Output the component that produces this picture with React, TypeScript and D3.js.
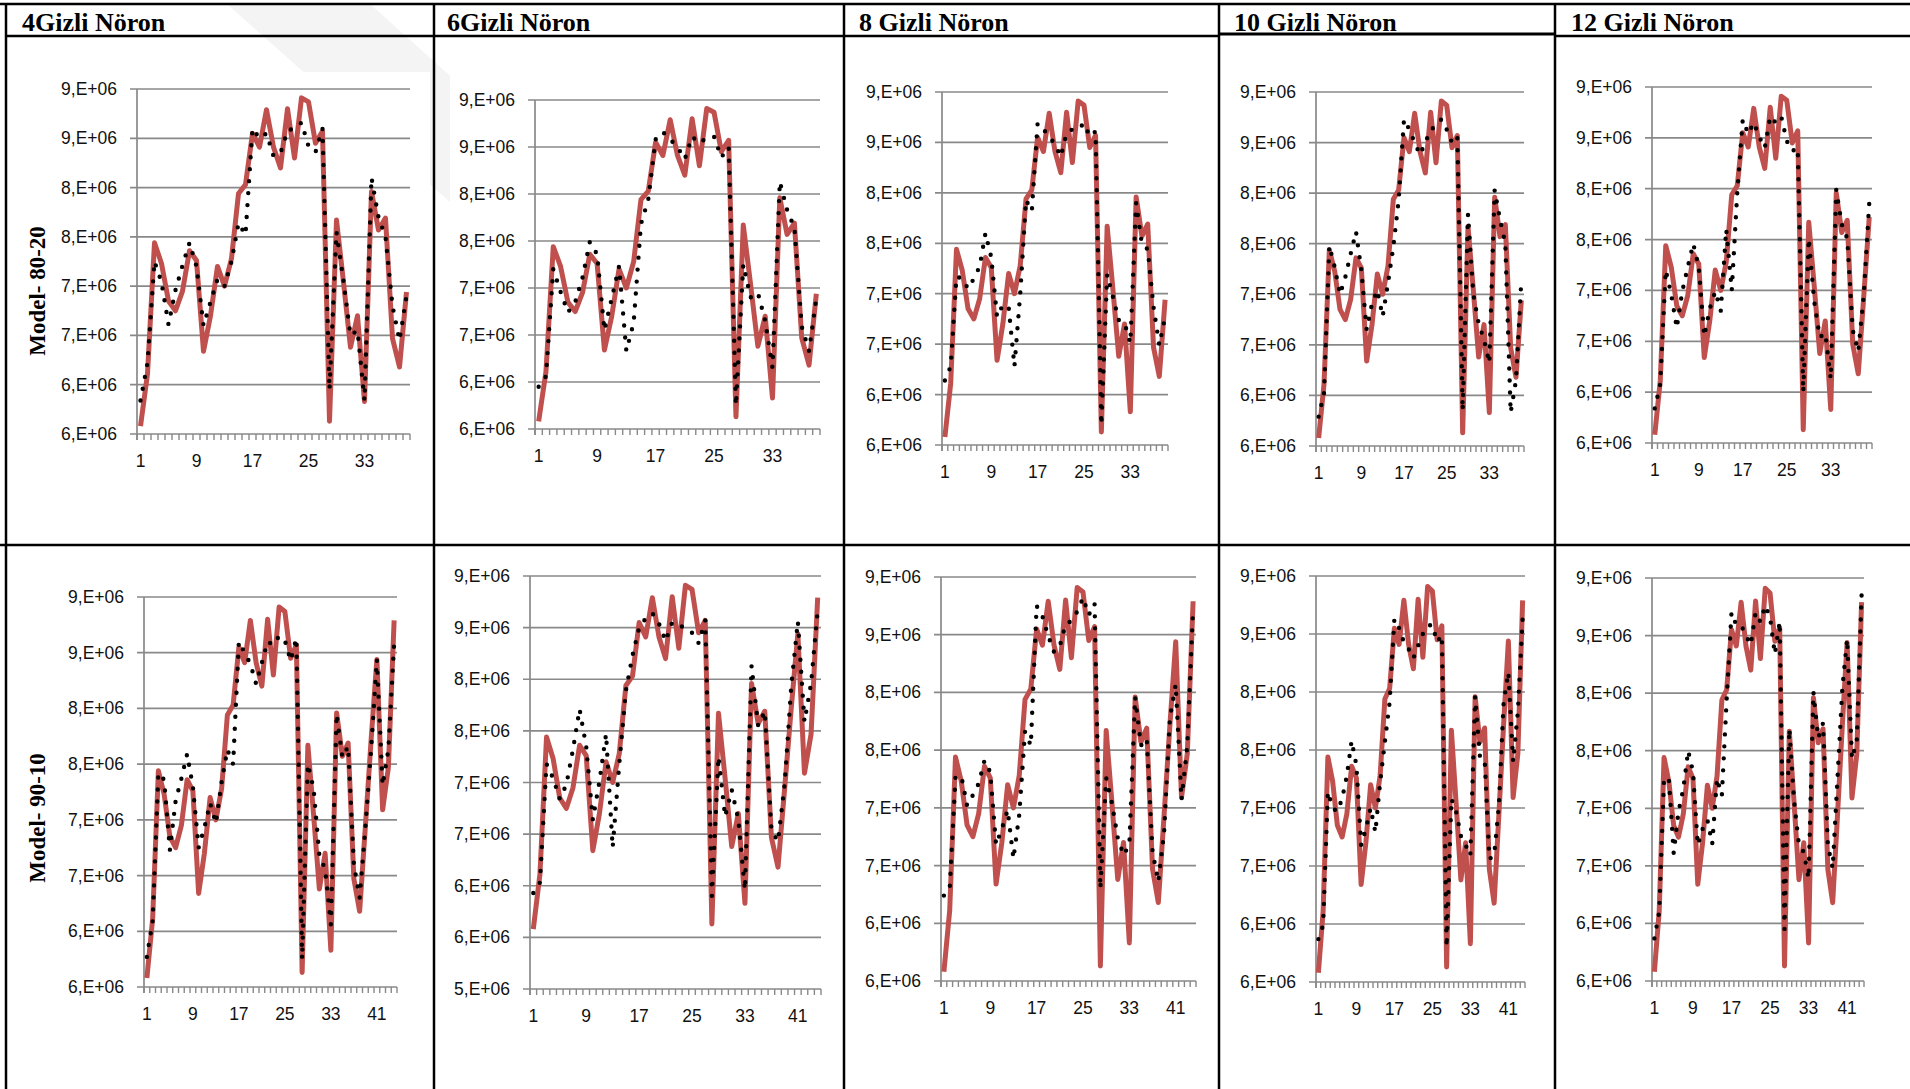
import React from "react";
import * as d3 from "d3";

const W = 1910;
const H = 1089;

// column / row titles
const neurons = ["4Gizli Nöron", "6Gizli Nöron", "8 Gizli Nöron", "10 Gizli Nöron", "12 Gizli Nöron"];
const models = ["Model- 80-20", "Model- 90-10"];

// actual values (x 1e6), red line
const actual = [
  5.58, 6.11, 7.44, 7.23, 6.85, 6.75, 6.95, 7.36, 7.26, 6.34, 6.7, 7.2, 7.0, 7.28, 7.94, 8.03,
  8.55, 8.41, 8.79, 8.41, 8.2, 8.8, 8.3, 8.91, 8.87, 8.45, 8.57, 5.63, 7.67, 7.04, 6.38, 6.7,
  5.83, 7.96, 7.57, 7.69, 6.47, 6.18, 6.94, 7.72, 8.44, 7.09, 7.47, 8.79,
];

// predicted values (x 1e6), black dotted line, model 80-20
const pred80n4 = [
  5.84, 6.22, 7.25, 7.04, 6.61, 6.96, 7.21, 7.44, 7.2, 6.6, 6.84, 7.07, 7.0, 7.25, 7.64, 7.52,
  8.6, 8.5, 8.55, 8.32, 8.35, 8.58, 8.6, 8.66, 8.42, 8.36, 8.6, 5.95, 7.55, 7.05, 6.5, 6.55,
  5.84, 8.1, 7.7, 7.5, 6.8, 6.45, 6.9,
];
const pred80n6 = [
  5.95, 6.06, 7.2, 6.96, 6.74, 6.85, 7.11, 7.49, 7.36, 6.55, 6.89, 7.23, 6.33, 6.63, 7.68, 7.94,
  8.58, 8.66, 8.58, 8.5, 8.37, 8.61, 8.54, 8.6, 8.61, 8.39, 8.5, 5.75, 7.25, 6.9, 6.95, 6.65,
  6.15, 8.13, 7.83, 7.64, 6.59, 6.33, 6.89,
];
const pred80n8 = [
  6.14, 6.28, 7.17, 7.15, 7.05, 7.15, 7.27, 7.6, 7.36, 6.77, 6.89, 6.87, 6.28, 7.0, 7.93, 7.82,
  8.69, 8.63, 8.56, 8.48, 8.36, 8.59, 8.63, 8.63, 8.69, 8.56, 8.61, 5.7, 7.19, 6.97, 6.74, 6.71,
  6.51, 7.9, 7.49, 7.44, 6.87, 6.49, 6.77,
];
const pred80n10 = [
  5.79, 6.02, 7.48, 7.27, 7.0, 7.17, 7.4, 7.62, 7.24, 6.65, 6.91, 7.04, 6.78, 7.11, 7.47, 7.93,
  8.73, 8.63, 8.5, 8.38, 8.5, 8.63, 8.66, 8.73, 8.63, 8.5, 8.56, 5.85, 7.79, 7.0, 6.71, 6.55,
  6.32, 8.03, 7.74, 7.5, 5.83, 6.15, 7.14,
];
const pred80n12 = [
  5.84, 6.08, 7.2, 6.96, 6.63, 6.99, 7.23, 7.46, 7.23, 6.55, 6.82, 6.99, 6.8, 7.6, 7.0, 7.96,
  8.68, 8.54, 8.65, 8.51, 8.4, 8.71, 8.65, 8.71, 8.47, 8.37, 8.4, 6.0, 7.51, 6.89, 6.54, 6.58,
  6.13, 7.99, 7.65, 7.51, 6.61, 6.4, 6.95, 7.86,
];

// predicted values, model 90-10
const pred90n4 = [
  5.77, 6.09, 7.42, 7.36, 6.73, 7.17, 7.37, 7.59, 7.3, 6.75, 6.93, 7.15, 6.97, 7.34, 7.63, 7.5,
  8.6, 8.5, 8.4, 8.22, 8.41, 8.6, 8.57, 8.65, 8.61, 8.43, 8.63, 5.75, 7.5, 7.28, 6.68, 6.56,
  6.06, 7.95, 7.56, 7.66, 6.6, 6.3, 6.93, 7.63, 8.44, 7.31, 7.63, 8.58,
];
const pred90n6 = [
  5.93, 6.03, 7.18, 7.04, 6.84, 6.98, 7.32, 7.71, 7.35, 6.64, 7.01, 7.47, 6.37, 7.18, 7.89, 8.23,
  8.5, 8.59, 8.64, 8.54, 8.37, 8.55, 8.52, 8.5, 8.45, 8.35, 8.57, 5.9, 7.25, 6.67, 6.93, 6.64,
  5.96, 8.13, 7.55, 7.69, 6.54, 6.43, 6.98, 7.93, 8.56, 7.59, 7.96, 8.67,
];
const pred90n8 = [
  6.24, 6.3, 7.26, 7.28, 7.02, 7.11, 7.21, 7.41, 7.31, 6.68, 6.82, 6.98, 6.56, 6.94, 7.66, 7.54,
  8.75, 8.66, 8.49, 8.35, 8.4, 8.59, 8.62, 8.7, 8.82, 8.67, 8.77, 6.3, 7.26, 7.04, 6.74, 6.59,
  6.68, 7.96, 7.54, 7.6, 6.62, 6.36, 6.79, 7.78, 8.07, 7.07, 7.54, 8.73,
];
const pred90n10 = [
  5.87, 5.99, 7.14, 7.0, 6.97, 7.08, 7.28, 7.58, 7.37, 6.68, 6.82, 7.0, 6.79, 7.22, 7.57, 7.91,
  8.63, 8.55, 8.43, 8.37, 8.29, 8.4, 8.5, 8.57, 8.58, 8.43, 8.49, 5.8, 7.08, 6.97, 6.76, 6.68,
  6.59, 7.96, 7.45, 7.43, 6.56, 6.59, 7.02, 7.91, 8.17, 7.4, 7.83, 8.63,
];
const pred90n12 = [
  5.87, 6.1, 7.26, 7.26, 6.61, 6.97, 7.17, 7.5, 7.32, 6.68, 6.82, 6.9, 6.69, 7.26, 7.11, 7.95,
  8.7, 8.59, 8.59, 8.5, 8.42, 8.7, 8.62, 8.76, 8.66, 8.34, 8.62, 5.95, 7.69, 7.06, 6.68, 6.62,
  6.39, 8.01, 7.61, 7.74, 6.68, 6.48, 7.26, 8.04, 8.47, 7.43, 7.58, 8.85,
];

const yMax = 9.0;
const yStep = 0.5;
const xLabelEvery = 8;

// where each small chart sits in the page
const panels = [
  { pred: pred80n4, yMin: 5.5, left: 137, right: 410, top: 89, bottom: 434 },
  { pred: pred80n6, yMin: 5.5, left: 535, right: 820, top: 100, bottom: 429 },
  { pred: pred80n8, yMin: 5.5, left: 942, right: 1168, top: 92, bottom: 445 },
  { pred: pred80n10, yMin: 5.5, left: 1316, right: 1524, top: 92, bottom: 446 },
  { pred: pred80n12, yMin: 5.5, left: 1652, right: 1872, top: 87, bottom: 443 },
  { pred: pred90n4, yMin: 5.5, left: 144, right: 397, top: 597, bottom: 987 },
  { pred: pred90n6, yMin: 5.0, left: 530, right: 821, top: 576, bottom: 989 },
  { pred: pred90n8, yMin: 5.5, left: 941, right: 1196, top: 577, bottom: 981 },
  { pred: pred90n10, yMin: 5.5, left: 1316, right: 1525, top: 576, bottom: 982 },
  { pred: pred90n12, yMin: 5.5, left: 1652, right: 1864, top: 578, bottom: 981 },
];

const colX = [6, 434, 844, 1219, 1555];
const headX = [22, 447, 859, 1234, 1571];
const rowY = 545;

const gridColor = "#898989";
const red = "#C0504D";
const tickFont = "'Liberation Sans', Arial, sans-serif";
const serif = "'Liberation Serif', 'Times New Roman', serif";

function Panel({ p }) {
  const n = p.pred.length;
  const cats = d3.range(1, n + 1);
  const x = d3.scaleBand().domain(cats).range([p.left, p.right]);
  const y = d3.scaleLinear().domain([p.yMin, yMax]).range([p.bottom, p.top]);
  const cx = (i) => x(i + 1) + x.bandwidth() / 2;
  const ticks = d3.range(p.yMin, yMax + 0.001, yStep);

  const line = d3
    .line()
    .x((d, i) => cx(i))
    .y((d) => y(d));

  return (
    <g>
      {/* horizontal gridlines */}
      {ticks.map((t) => (
        <line key={t} x1={p.left - 7} x2={p.right} y1={y(t)} y2={y(t)} stroke={gridColor} strokeWidth={1.7} />
      ))}
      {/* value axis */}
      <line x1={p.left} x2={p.left} y1={p.top} y2={p.bottom + 6} stroke={gridColor} strokeWidth={1.7} />
      {/* category tick marks */}
      {d3.range(0, n + 1).map((k) => {
        const xx = p.left + k * x.bandwidth();
        return <line key={k} x1={xx} x2={xx} y1={p.bottom} y2={p.bottom + 6} stroke={gridColor} strokeWidth={1.4} />;
      })}
      {ticks.map((t) => (
        <text key={"l" + t} x={p.left - 20} y={y(t) + 6} textAnchor="end" fontFamily={tickFont} fontSize={17.5} fill="#111">
          {Math.round(t) + ",E+06"}
        </text>
      ))}
      {cats
        .filter((c) => (c - 1) % xLabelEvery === 0)
        .map((c) => (
          <text key={"x" + c} x={cx(c - 1)} y={p.bottom + 33} textAnchor="middle" fontFamily={tickFont} fontSize={17.5} fill="#111">
            {c}
          </text>
        ))}
      <path d={line(actual.slice(0, n))} fill="none" stroke={red} strokeWidth={5} strokeLinejoin="round" />
      <path
        d={line(p.pred)}
        fill="none"
        stroke="#000"
        strokeWidth={4.4}
        strokeDasharray="0 12"
        strokeLinecap="round"
        strokeLinejoin="round"
      />
    </g>
  );
}

export default function App() {
  return (
    <svg width={W} height={H} style={{ position: "absolute", left: 0, top: 0, background: "#fff" }}>
      <rect x={0} y={0} width={W} height={H} fill="#fff" />
      {/* faint watermark band */}
      <polygon points="227,4 370,4 700,300 560,300" fill="#f4f4f4" />
      <rect x={12} y={72} width={418} height={468} fill="#fff" />
      <rect x={450} y={38} width={390} height={502} fill="#fff" />

      {/* table lines */}
      <line x1={0} x2={W} y1={4} y2={4} stroke="#000" strokeWidth={2.5} />
      {colX.map((cx, i) => (
        <line key={"c" + i} x1={cx} x2={cx} y1={4} y2={H} stroke="#000" strokeWidth={2.5} />
      ))}
      {colX.map((cx, i) => (
        <line
          key={"h" + i}
          x1={cx}
          x2={i < colX.length - 1 ? colX[i + 1] : W}
          y1={i === 3 ? 34 : 36}
          y2={i === 3 ? 34 : 36}
          stroke="#000"
          strokeWidth={i === 3 ? 3 : 2.5}
        />
      ))}
      <line x1={0} x2={W} y1={rowY} y2={rowY} stroke="#000" strokeWidth={2.5} />

      {neurons.map((t, i) => (
        <text key={t} x={headX[i]} y={31} fontFamily={serif} fontWeight="bold" fontSize={26} fill="#000">
          {t}
        </text>
      ))}
      {models.map((t, i) => (
        <text
          key={t}
          transform={`translate(45,${i === 0 ? 291 : 818}) rotate(-90)`}
          textAnchor="middle"
          fontFamily={serif}
          fontWeight="bold"
          fontSize={23}
          fill="#000"
        >
          {t}
        </text>
      ))}

      {panels.map((p, i) => (
        <Panel key={i} p={p} />
      ))}
    </svg>
  );
}
